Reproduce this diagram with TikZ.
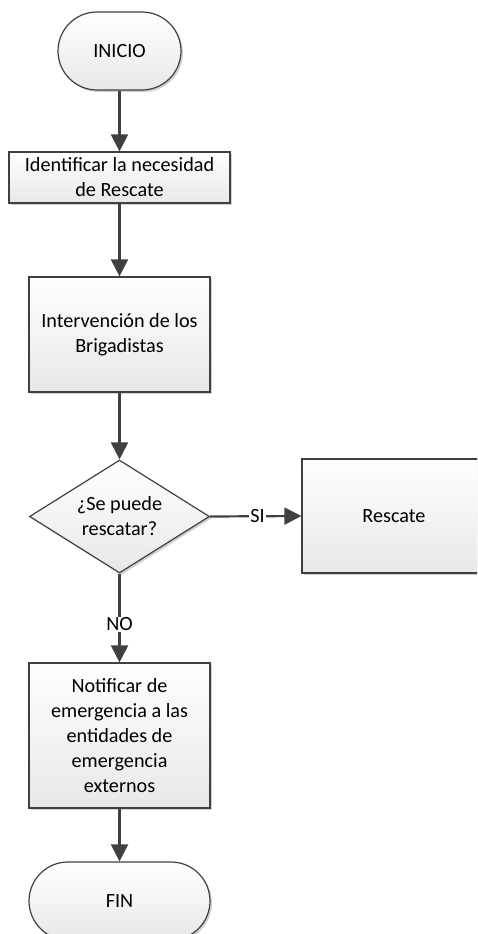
\documentclass[tikz,border=0pt]{standalone}
\usepackage{fontspec}
\setmainfont{Carlito}
\usetikzlibrary{arrows.meta,shapes.geometric,shadows}
\definecolor{linec}{HTML}{404040}
\tikzset{
  base/.style={draw=linec, line width=1.2pt, top color=white, bottom color=black!9,
    align=center, inner sep=0pt, text=black,
    font=\fontsize{20.2}{25}\selectfont,
    drop shadow={shadow xshift=2pt, shadow yshift=-2pt, fill=black, opacity=0.18}},
  procbox/.style={base, rectangle},
  termbox/.style={base, rectangle, rounded corners=39pt, minimum height=78pt},
  decbox/.style={base, diamond},
  conn/.style={draw=linec, line width=2.2pt, -{Triangle[length=17pt,width=17pt]}},
  lbl/.style={fill=white, inner sep=1pt, text=black, font=\fontsize{20.2}{24}\selectfont}
}
\begin{document}
\begin{tikzpicture}[x=1pt,y=-1pt]
\useasboundingbox (0,0) rectangle (477,934);
\clip (0,0) rectangle (477,934);
\node[termbox, minimum width=123pt] (inicio) at (119.5,51) {INICIO};
\node[procbox, minimum width=221pt, minimum height=51pt] (ident) at (119.5,177.5) {Identificar la necesidad\\de Rescate};
\node[procbox, minimum width=181pt, minimum height=115pt] (interv) at (119.5,334.5) {Intervención de los\\Brigadistas};
\node[decbox, minimum width=180pt, minimum height=113pt, aspect=1.6] (dec) at (119.5,516.5) {};
\node[align=center, font=\fontsize{20.2}{25}\selectfont] (dectext) at (119.5,516.5) {¿Se puede\\rescatar?};
\node[procbox, minimum width=184pt, minimum height=114pt] (resc) at (394,516) {Rescate};
\node[procbox, minimum width=181pt, minimum height=145pt] (notif) at (119.5,735.5) {Notificar de\\emergencia a las\\entidades de\\emergencia\\externos};
\node[termbox, minimum width=181pt] (fin) at (119.5,901) {FIN};
\draw[conn] (inicio) -- (ident);
\draw[conn] (ident) -- (interv);
\draw[conn] (interv) -- (dec);
\draw[conn] (dec.east) -- node[lbl, pos=0.52] (si) {SI} (resc.west);
\draw[conn] (dec.south) -- node[lbl, pos=0.57] (no) {NO} (notif.north);
\draw[conn] (notif) -- (fin);
\end{tikzpicture}
\end{document}
